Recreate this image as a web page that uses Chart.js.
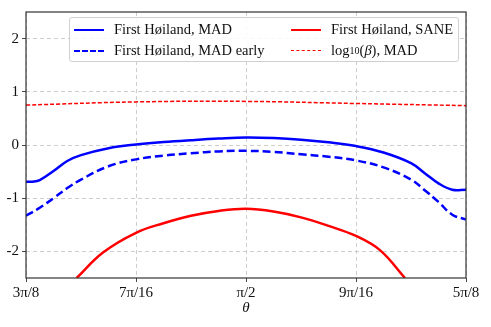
<!DOCTYPE html>
<html>
<head>
<meta charset="utf-8">
<script src="https://cdn.jsdelivr.net/npm/chart.js@4/dist/chart.umd.min.js"></script>
<style>
	body { margin: 0; background: #fff; }
	#wrap { position: relative; width: 491px; height: 327px; }
	#legend {
		position: absolute; left: 69px; top: 17px; width: 388px; height: 43px;
		border: 1px solid #d0d0d0; border-radius: 3px; background: rgba(255,255,255,0.85);
		font-family: "Liberation Serif", serif; font-size: 14.5px; color: #111;
	}
	.item { position: absolute; display: flex; align-items: center; white-space: nowrap; }
	.sample { width: 30px; height: 0; margin-right: 10px; }
	#xlabel {
		position: absolute; left: 236px; top: 299px; width: 20px; text-align: center;
		font-family: "Liberation Serif", serif; font-style: italic; font-size: 15px; color: #111;
	}
</style>
</head>
<body>
<div id="wrap">
	<canvas id="chart" width="491" height="327"></canvas>
	<div id="legend">
		<div class="item" style="left:4px;top:3px"><span class="sample" style="border-top:2.5px solid #0000ff"></span>First Høiland, MAD</div>
		<div class="item" style="left:4px;top:24px"><span class="sample" style="border-top:2.5px dashed #0000ff"></span>First Høiland, MAD early</div>
		<div class="item" style="left:221px;top:3px"><span class="sample" style="border-top:2.5px solid #ff0000"></span>First Høiland, SANE</div>
		<div class="item" style="left:221px;top:24px"><span class="sample" style="border-top:1.5px dashed #ff0000"></span>log<sub style="font-size:10px">10</sub>(<i>β</i>), MAD</div>
	</div>
	<div id="xlabel">θ</div>
</div>
<script>
// theta in units of pi/16
const tickValues = [6, 7, 8, 9, 10];
const tickLabels = ["3π/8", "7π/16", "π/2", "9π/16", "5π/8"];

const madX = [6.0, 6.06, 6.125, 6.25, 6.375, 6.5, 6.75, 7.0, 7.25, 7.5, 7.75, 8.0, 8.25, 8.5, 8.75, 9.0, 9.25, 9.5, 9.625, 9.75, 9.875, 10.0];
const madY = [-0.69, -0.69, -0.66, -0.49, -0.30, -0.19, -0.06, 0.01, 0.055, 0.09, 0.12, 0.14, 0.13, 0.10, 0.05, -0.02, -0.14, -0.34, -0.53, -0.72, -0.84, -0.84];

const earlyX = [6.0, 6.125, 6.25, 6.375, 6.5, 6.75, 7.0, 7.25, 7.5, 7.75, 8.0, 8.25, 8.5, 8.75, 9.0, 9.25, 9.5, 9.625, 9.75, 9.875, 10.0];
const earlyY = [-1.33, -1.18, -1.00, -0.81, -0.65, -0.40, -0.27, -0.20, -0.155, -0.12, -0.11, -0.13, -0.175, -0.22, -0.29, -0.42, -0.65, -0.85, -1.07, -1.31, -1.40];

const saneX = [6.46, 6.70, 7.0, 7.25, 7.5, 7.75, 8.0, 8.25, 8.5, 8.75, 9.0, 9.22, 9.445];
const saneY = [-2.5, -2.02, -1.65, -1.47, -1.33, -1.24, -1.20, -1.25, -1.36, -1.52, -1.71, -1.98, -2.5];

const betaX = [6.0, 7.0, 8.0, 9.0, 10.0];
const betaY = [0.75, 0.81, 0.82, 0.78, 0.74];

const yTicks = [-2, -1, 0, 1, 2];

const pts = (xs, ys) => xs.map((x, i) => ({ x, y: ys[i] }));

const frame = {
	id: "frame",
	afterDraw(chart) {
		const a = chart.chartArea, c = chart.ctx;
		c.save();
		c.strokeStyle = "#333";
		c.lineWidth = 1.2;
		c.strokeRect(a.left, a.top, a.right - a.left, a.bottom - a.top);
		c.restore();
	}
};

const font = { family: "Liberation Serif", size: 15 };
const grid = {
	color: "#c8c8c8", lineWidth: 0.9,
	tickColor: "#333", tickLength: 4, tickBorderDash: []
};
const border = { display: false, dash: [4, 3] };

new Chart(document.getElementById("chart"), {
	type: "line",
	data: {
		datasets: [
			{ data: pts(betaX, betaY), borderColor: "#ff0000", borderWidth: 1.5, borderDash: [4, 2] },
			{ data: pts(saneX, saneY), borderColor: "#ff0000", borderWidth: 2.5 },
			{ data: pts(earlyX, earlyY), borderColor: "#0000ff", borderWidth: 2.5, borderDash: [8, 4] },
			{ data: pts(madX, madY), borderColor: "#0000ff", borderWidth: 2.5 },
		],
	},
	options: {
		responsive: false,
		animation: false,
		elements: { point: { radius: 0 }, line: { tension: 0.4, fill: false } },
		layout: { padding: { top: 10, right: 25, left: 0, bottom: 0 } },
		plugins: { legend: { display: false }, tooltip: { enabled: false } },
		scales: {
			x: {
				type: "linear", min: 6, max: 10,
				grid: grid,
				border: border,
				afterBuildTicks: s => { s.ticks = tickValues.map(v => ({ value: v })); },
				afterFit: s => { s.height = 49; },
				ticks: {
					color: "#111", font: font, maxRotation: 0, padding: 2,
					callback: v => tickLabels[tickValues.indexOf(v)]
				}
			},
			y: {
				min: -2.5, max: 2.5,
				grid: grid,
				border: border,
				afterBuildTicks: s => { s.ticks = yTicks.map(v => ({ value: v })); },
				afterFit: s => { s.width = 26; },
				ticks: { color: "#111", font: font, padding: 3 }
			}
		}
	},
	plugins: [frame]
});
</script>
</body>
</html>
